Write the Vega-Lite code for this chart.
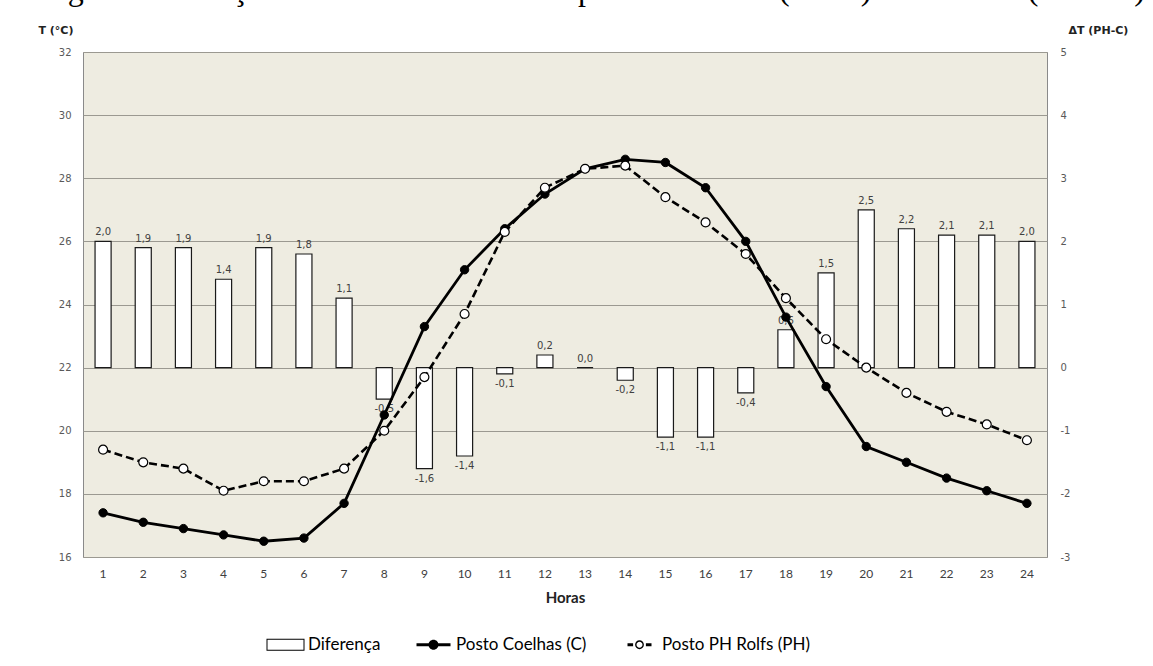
{
  "$schema": "https://vega.github.io/schema/vega-lite/v6.json",
  "width": 964,
  "height": 505,
  "autosize": {"type": "none"},
  "padding": {"left": 83, "top": 52, "right": 106, "bottom": 109},
  "background": "white",
  "title": {
    "text": "Figura 3: Variação horária média entre os postos Coelhas (Rural) e PH Rolfs (Urbano).",
    "font": "Liberation Serif", "fontSize": 32, "fontWeight": "normal", "color": "black",
    "anchor": "start", "frame": "group", "baseline": "alphabetic", "offset": 0, "dx": -42, "dy": 8
  },
  "config": {
    "locale": {"number": {"decimal": ",", "thousands": ".", "grouping": [3], "currency": ["", " €"], "minus": "-"}},
    "view": {"fill": "#EEECE1", "stroke": "#8a8a8a", "strokeWidth": 1},
    "axis": {
      "labelFont": "DejaVu Sans", "labelFontSize": 10, "labelColor": "#595959",
      "ticks": false, "domain": false, "gridColor": "#9b9991", "gridWidth": 1,
      "titleFont": "DejaVu Sans", "titleFontWeight": "bold", "titleColor": "#222222"
    }
  },
  "data": {"values": [
    {"h": 1, "C": 17.4, "PH": 19.4, "D": 2.0},
    {"h": 2, "C": 17.1, "PH": 19.0, "D": 1.9},
    {"h": 3, "C": 16.9, "PH": 18.8, "D": 1.9},
    {"h": 4, "C": 16.7, "PH": 18.1, "D": 1.4},
    {"h": 5, "C": 16.5, "PH": 18.4, "D": 1.9},
    {"h": 6, "C": 16.6, "PH": 18.4, "D": 1.8},
    {"h": 7, "C": 17.7, "PH": 18.8, "D": 1.1},
    {"h": 8, "C": 20.5, "PH": 20.0, "D": -0.5},
    {"h": 9, "C": 23.3, "PH": 21.7, "D": -1.6},
    {"h": 10, "C": 25.1, "PH": 23.7, "D": -1.4},
    {"h": 11, "C": 26.4, "PH": 26.3, "D": -0.1},
    {"h": 12, "C": 27.5, "PH": 27.7, "D": 0.2},
    {"h": 13, "C": 28.3, "PH": 28.3, "D": 0.0},
    {"h": 14, "C": 28.6, "PH": 28.4, "D": -0.2},
    {"h": 15, "C": 28.5, "PH": 27.4, "D": -1.1},
    {"h": 16, "C": 27.7, "PH": 26.6, "D": -1.1},
    {"h": 17, "C": 26.0, "PH": 25.6, "D": -0.4},
    {"h": 18, "C": 23.6, "PH": 24.2, "D": 0.6},
    {"h": 19, "C": 21.4, "PH": 22.9, "D": 1.5},
    {"h": 20, "C": 19.5, "PH": 22.0, "D": 2.5},
    {"h": 21, "C": 19.0, "PH": 21.2, "D": 2.2},
    {"h": 22, "C": 18.5, "PH": 20.6, "D": 2.1},
    {"h": 23, "C": 18.1, "PH": 20.2, "D": 2.1},
    {"h": 24, "C": 17.7, "PH": 19.7, "D": 2.0}
  ]},
  "encoding": {
    "x": {
      "field": "h", "type": "ordinal",
      "scale": {"paddingInner": 0.6, "paddingOuter": 0.3},
      "axis": {
        "labelAngle": 0, "grid": false, "labelFont": "Lato", "labelFontSize": 12,
        "labelColor": "#404040", "labelPadding": 11, "title": "Horas",
        "titleFont": "Lato", "titleFontSize": 15, "titlePadding": 11
      }
    }
  },
  "layer": [
    {
      "encoding": {
        "y": {
          "field": "D", "type": "quantitative",
          "scale": {"domain": [-3, 5], "nice": false, "zero": false},
          "axis": {
            "orient": "right", "values": [-3, -2, -1, 0, 1, 2, 3, 4, 5], "grid": false, "labelPadding": 13,
            "title": "ΔT (PH-C)", "titleAngle": 0, "titleAlign": "left", "titleBaseline": "middle",
            "titleX": 21, "titleY": -22, "titleFontSize": 11
          }
        }
      },
      "layer": [
        {"mark": {"type": "bar", "fill": "white", "stroke": "#1a1a1a", "strokeWidth": 1.2}},
        {
          "transform": [{"filter": "datum.D >= 0"}],
          "mark": {"type": "text", "baseline": "bottom", "dy": -4, "font": "DejaVu Sans", "fontSize": 10, "color": "#404040"},
          "encoding": {"text": {"field": "D", "type": "quantitative", "format": ".1f"}}
        },
        {
          "transform": [{"filter": "datum.D < 0"}],
          "mark": {"type": "text", "baseline": "top", "dy": 5, "font": "DejaVu Sans", "fontSize": 10, "color": "#404040"},
          "encoding": {"text": {"field": "D", "type": "quantitative", "format": ".1f"}}
        }
      ]
    },
    {
      "layer": [
        {
          "mark": {"type": "line", "color": "black", "strokeWidth": 2.8},
          "encoding": {
            "y": {
              "field": "C", "type": "quantitative",
              "scale": {"domain": [16, 32], "nice": false, "zero": false},
              "axis": {
                "orient": "left", "values": [16, 18, 20, 22, 24, 26, 28, 30, 32], "grid": true, "labelPadding": 12,
                "title": "T (°C)", "titleAngle": 0, "titleAlign": "left", "titleBaseline": "middle",
                "titleX": -45, "titleY": -22, "titleFontSize": 11
              }
            }
          }
        },
        {
          "mark": {"type": "point", "filled": true, "fill": "black", "stroke": "black", "strokeWidth": 1, "size": 70, "opacity": 1},
          "encoding": {
            "y": {
              "field": "C", "type": "quantitative",
              "axis": {
                "orient": "left", "values": [16, 18, 20, 22, 24, 26, 28, 30, 32], "grid": true, "labelPadding": 12,
                "title": "T (°C)", "titleAngle": 0, "titleAlign": "left", "titleBaseline": "middle",
                "titleX": -45, "titleY": -22, "titleFontSize": 11
              }
            }
          }
        },
        {
          "mark": {"type": "line", "color": "black", "strokeWidth": 2.6, "strokeDash": [8, 4]},
          "encoding": {
            "y": {
              "field": "PH", "type": "quantitative",
              "axis": {
                "orient": "left", "values": [16, 18, 20, 22, 24, 26, 28, 30, 32], "grid": true, "labelPadding": 12,
                "title": "T (°C)", "titleAngle": 0, "titleAlign": "left", "titleBaseline": "middle",
                "titleX": -45, "titleY": -22, "titleFontSize": 11
              }
            }
          }
        },
        {
          "mark": {"type": "point", "filled": true, "fill": "white", "stroke": "black", "strokeWidth": 1.2, "size": 80, "opacity": 1},
          "encoding": {
            "y": {
              "field": "PH", "type": "quantitative",
              "axis": {
                "orient": "left", "values": [16, 18, 20, 22, 24, 26, 28, 30, 32], "grid": true, "labelPadding": 12,
                "title": "T (°C)", "titleAngle": 0, "titleAlign": "left", "titleBaseline": "middle",
                "titleX": -45, "titleY": -22, "titleFontSize": 11
              }
            }
          }
        },
        {
          "transform": [{"filter": "false"}],
          "mark": {"type": "point", "filled": true, "stroke": "black", "strokeWidth": 0.5, "opacity": 1},
          "encoding": {
            "shape": {
              "field": "s", "type": "nominal",
              "scale": {
                "domain": ["Diferença", "Posto Coelhas (C)", "Posto PH Rolfs (PH)"],
                "range": [
                  "M-0.95,-0.3H0.95V0.3H-0.95Z M-0.9,-0.25V0.25H0.9V-0.25Z",
                  "M-0.85,-0.075H0.85V0.075H-0.85Z M0.25,0A0.25,0.25 0 1 1 -0.25,0A0.25,0.25 0 1 1 0.25,0Z",
                  "M-0.6,-0.075H-0.32V0.075H-0.6Z M0.32,-0.075H0.6V0.075H0.32Z M0.22,0A0.22,0.22 0 1 1 -0.22,0A0.22,0.22 0 1 1 0.22,0Z M0.15,0A0.15,0.15 0 1 0 -0.15,0A0.15,0.15 0 1 0 0.15,0Z"
                ]
              },
              "legend": {
                "title": null, "orient": "none", "legendX": 182, "legendY": 572, "direction": "horizontal",
                "symbolSize": 1600, "symbolStrokeColor": "black", "symbolStrokeWidth": 0.5, "symbolOpacity": 1,
                "labelFont": "Lato", "labelFontSize": 17, "labelColor": "black",
                "labelOffset": 2, "columnPadding": 32
              }
            },
            "fill": {
              "field": "s", "type": "nominal",
              "scale": {
                "domain": ["Diferença", "Posto Coelhas (C)", "Posto PH Rolfs (PH)"],
                "range": ["black", "black", "black"]
              },
              "legend": {
                "title": null, "orient": "none", "legendX": 182, "legendY": 572, "direction": "horizontal",
                "symbolSize": 1600, "symbolStrokeColor": "black", "symbolStrokeWidth": 0.5, "symbolOpacity": 1,
                "labelFont": "Lato", "labelFontSize": 17, "labelColor": "black",
                "labelOffset": 2, "columnPadding": 32
              }
            }
          }
        }
      ]
    }
  ],
  "resolve": {"scale": {"y": "independent"}}
}
